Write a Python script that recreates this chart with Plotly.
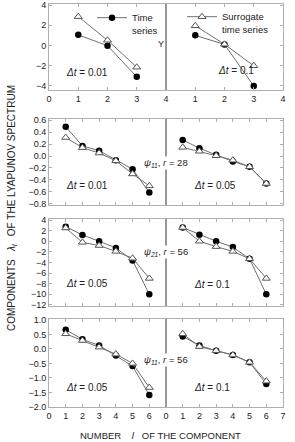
import plotly.graph_objects as go

# ---------------- data ----------------
comp3 = [1, 2, 3]
comp6 = [1, 2, 3, 4, 5, 6]

r1_a_ts = [1.05, -0.02, -3.1]      # Y, dt=0.01
r1_a_sur = [2.85, 0.52, -2.15]
r1_b_ts = [1.0, 0.1, -4.0]         # Y, dt=0.1
r1_b_sur = [1.95, 0.12, -2.0]

r2_a_ts = [0.49, 0.17, 0.09, -0.07, -0.22, -0.61]     # psi11 r=28 dt=0.01
r2_a_sur = [0.31, 0.14, 0.05, -0.08, -0.30, -0.50]
r2_b_ts = [0.27, 0.13, 0.02, -0.09, -0.18, -0.46]     # dt=0.05
r2_b_sur = [0.145, 0.08, 0.005, -0.07, -0.18, -0.46]

r3_a_ts = [2.75, 1.2, 0.0, -1.25, -3.6, -10.0]        # psi21 r=56 dt=0.05
r3_a_sur = [2.5, -0.2, -0.8, -1.9, -3.2, -7.0]
r3_b_ts = [2.6, 1.25, 0.0, -1.1, -3.3, -10.0]         # dt=0.1
r3_b_sur = [2.6, 0.0, -1.0, -1.9, -3.3, -7.0]

r4_a_ts = [0.66, 0.33, 0.12, -0.23, -0.59, -1.59]     # psi11 r=56 dt=0.05
r4_a_sur = [0.52, 0.29, 0.06, -0.18, -0.50, -1.33]
r4_b_ts = [0.43, 0.12, -0.06, -0.21, -0.46, -1.21]    # dt=0.1
r4_b_sur = [0.52, 0.08, -0.06, -0.21, -0.46, -1.11]

dt_labels = [["0.01", "0.1"], ["0.01", "0.05"], ["0.05", "0.1"], ["0.05", "0.1"]]
psi_labels = [None, ("11", "28"), ("21", "56"), ("11", "56")]

row_x = [comp3, comp6, comp6, comp6]
row_data = [
    (r1_a_ts, r1_a_sur, r1_b_ts, r1_b_sur),
    (r2_a_ts, r2_a_sur, r2_b_ts, r2_b_sur),
    (r3_a_ts, r3_a_sur, r3_b_ts, r3_b_sur),
    (r4_a_ts, r4_a_sur, r4_b_ts, r4_b_sur),
]
y_ranges = [[-4.4, 4.1], [-0.82, 0.62], [-12.2, 4.2], [-2.0, 1.03]]
y_ticks = [[-4, -2, 0, 2, 4],
           [-0.8, -0.6, -0.4, -0.2, 0.0, 0.2, 0.4, 0.6],
           [-12, -10, -8, -6, -4, -2, 0, 2, 4],
           [-2.0, -1.5, -1.0, -0.5, 0.0, 0.5, 1.0]]
y_fmt = ["d", ".1f", "d", ".1f"]
x_ranges = [[0, 4], [0, 7], [0, 7], [0, 7]]

# ---------------- layout geometry ----------------
W, H = 295, 442
L, R, T, B = 49, 12, 4, 35
PW, PH = W - L - R, H - T - B


def px_x(p):
    return (p - L) / PW


def px_y(p):
    return (H - B - p) / PH


row_px = [(4, 90), (119, 205), (219, 306), (319, 407)]

FONT = "Arial, Liberation Sans, sans-serif"
FRAME = "#b0b0b0"
LINE = "#707070"

fig = go.Figure()
layout = dict(template="none", width=W, height=H,
              margin=dict(l=L, r=R, t=T, b=B, pad=0, autoexpand=False),
              paper_bgcolor="white", plot_bgcolor="white",
              font=dict(family=FONT, size=9, color="#222"),
              showlegend=True)

annotations = []
shapes = []

for r in range(4):
    top, bot = row_px[r]
    ydom = [px_y(bot), px_y(top)]
    for c in range(2):
        i = r * 2 + c + 1
        xa = "x" if i == 1 else f"x{i}"
        ya = "y" if i == 1 else f"y{i}"
        xname = "xaxis" if i == 1 else f"xaxis{i}"
        yname = "yaxis" if i == 1 else f"yaxis{i}"
        ts = row_data[r][2 * c]
        sur = row_data[r][2 * c + 1]
        xs = row_x[r]
        fig.add_trace(go.Scatter(
            x=xs, y=ts, xaxis=xa, yaxis=ya, mode="lines+markers",
            name="Time<br>series",
            line=dict(color=LINE, width=1),
            marker=dict(symbol="circle", size=6.5, color="black"),
            showlegend=(r == 0 and c == 0), legend="legend"))
        fig.add_trace(go.Scatter(
            x=xs, y=sur, xaxis=xa, yaxis=ya, mode="lines+markers",
            name="Surrogate<br>time series",
            line=dict(color=LINE, width=1),
            marker=dict(symbol="triangle-up", size=7, color="white",
                        line=dict(width=1, color="#555")),
            showlegend=(r == 0 and c == 1), legend="legend2"))

        # x axis
        xr = x_ranges[r]
        if r == 0:
            xt = list(range(0, 5)) if c == 0 else list(range(1, 5))
            showx = True
        elif r == 3:
            xt = list(range(0, 7)) if c == 0 else list(range(0, 8))
            showx = True
        else:
            xt = list(range(0, 8))
            showx = False
        layout[xname] = dict(
            domain=[0, 0.5] if c == 0 else [0.5, 1], range=xr,
            anchor=ya, tickmode="array", tickvals=xt, automargin=False,
            ticks="inside", ticklen=3, tickcolor=FRAME, mirror="ticks",
            showline=True, linecolor=FRAME, linewidth=1,
            showgrid=False, zeroline=False, showticklabels=showx,
            tickfont=dict(size=9))
        # y axis
        yd = dict(domain=ydom, range=y_ranges[r], anchor=xa,
                  tickmode="array", tickvals=y_ticks[r], automargin=False,
                  tickformat=y_fmt[r], ticks="inside", ticklen=3,
                  tickcolor=FRAME, showline=True, linecolor=FRAME,
                  linewidth=1, mirror=True, showgrid=False,
                  zeroline=False, tickfont=dict(size=9))
        if c == 1:
            yd.update(side="right", showticklabels=False,
                      matches="y" if r == 0 else f"y{r * 2 + 1}")
        layout[yname] = yd

        # delta t label
        lx = 64 if c == 0 else (216 if r == 0 else 192)
        ly = [72, 185, 283, 387][r] if c == 0 else [70, 185, 284, 387][r]
        annotations.append(dict(
            xref="paper", yref="paper", x=px_x(lx), y=px_y(ly),
            xanchor="left", yanchor="middle", showarrow=False,
            text=f"<i>Δt</i> = {dt_labels[r][c]}",
            font=dict(size=10, color="#222")))

    # divider line
    shapes.append(dict(type="line", xref="paper", yref="paper",
                       x0=0.5, x1=0.5, y0=ydom[0], y1=ydom[1],
                       line=dict(color="#808080", width=1), layer="above"))
    if psi_labels[r]:
        sub, rv = psi_labels[r]
        py = [None, 163, 252, 360][r]
        annotations.append(dict(
            xref="paper", yref="paper", x=px_x(143), y=px_y(py),
            xanchor="left", yanchor="middle", showarrow=False,
            text=f"<i>ψ<sub>{sub}</sub></i>, <i>r</i> = {rv}",
            bgcolor="white", borderpad=0,
            font=dict(size=9.5, color="#222")))

annotations.append(dict(xref="paper", yref="paper", x=px_x(161), y=px_y(44),
                        xanchor="center", yanchor="middle", showarrow=False,
                        text="Y", font=dict(size=9, color="#222")))
annotations.append(dict(xref="paper", yref="paper", x=px_x(12), y=px_y(208),
                        xanchor="center", yanchor="middle", showarrow=False,
                        textangle=-90,
                        text="COMPONENTS   <i>λ<sub>l</sub></i>   OF THE LYAPUNOV SPECTRUM",
                        font=dict(size=10, color="#222")))
annotations.append(dict(xref="paper", yref="paper", x=px_x(160), y=px_y(435),
                        xanchor="center", yanchor="middle", showarrow=False,
                        text="NUMBER    <i>l</i>   OF THE COMPONENT",
                        font=dict(size=9.5, color="#222")))

layout["annotations"] = annotations
layout["shapes"] = shapes
layout["legend"] = dict(x=px_x(92), y=px_y(5), xanchor="left", yanchor="top",
                        bgcolor="rgba(0,0,0,0)", borderwidth=0,
                        valign="top", itemwidth=30,
                        font=dict(size=9.5, color="#222"))
layout["legend2"] = dict(x=px_x(182), y=px_y(4), xanchor="left", yanchor="top",
                         bgcolor="rgba(0,0,0,0)", borderwidth=0,
                         valign="top", itemwidth=30,
                         font=dict(size=9.5, color="#222"))
fig.update_layout(**layout)
fig.write_html("out.html", config={"displayModeBar": False},
               post_script="document.body.style.margin='0';"
                           "document.body.style.padding='0';")
